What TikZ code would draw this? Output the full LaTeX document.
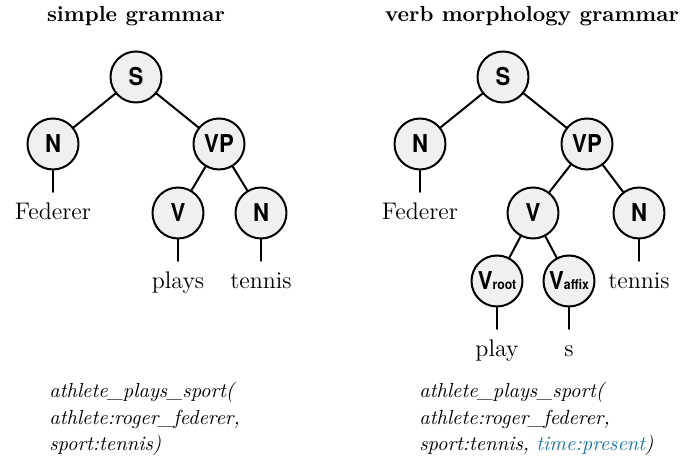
\documentclass[tikz,border=0pt]{standalone}
\usepackage{fontspec}
\usetikzlibrary{positioning}
\newfontfamily\nodefont{TeX Gyre Heros}[FakeStretch=0.9]
\definecolor{nodegray}{RGB}{240,240,240}
\definecolor{timeblue}{RGB}{26,118,168}
\tikzset{
  tnode/.style={circle, draw, line width=1pt, fill=nodegray, minimum size=25.5pt, inner sep=0pt,
    font=\nodefont\bfseries\fontsize{12.3}{12.3}\selectfont},
  word/.style={inner xsep=0pt, inner ysep=5pt, text height=8.5pt, text depth=2.5pt,
    font=\fontsize{12}{14}\selectfont},
  title/.style={anchor=base, font=\bfseries\fontsize{10.9}{13}\selectfont},
  rel/.style={align=left, anchor=north west, inner sep=0pt, font=\itshape\fontsize{10.2}{13.3}\selectfont},
  link/.style={line width=1pt},
}
\newcommand{\subv}[1]{V{\fontsize{6.8}{7}\selectfont #1}}
\begin{document}
\begin{tikzpicture}[x=0.5pt, y=-0.5pt, line join=round, line cap=round]
	\useasboundingbox (0,0) rectangle (681,458); % page size
	\node[title] (titleL) at (136,22) {simple grammar};
	\node[title] (titleR) at (532,22) {verb morphology grammar};
	% left tree
	\foreach \nm/\x/\y/\lab in {lS/136/77/S, lN/53/144/N, lVP/219/144/VP, lV/178/213/V, lNb/261/213/N}
	\node[tnode] (\nm) at (\x,\y) {\lab};
	\foreach \a/\b in {lS/lN, lS/lVP, lVP/lV, lVP/lNb}
	\draw[link] (\a) -- (\b);
	\foreach \nm/\up/\w in {lFed/lN/Federer, lPlays/lV/plays, lTen/lNb/tennis}
	{\node[word, below=10.75pt of \up] (\nm) {\w};
	\draw[link] (\up) -- (\nm);}
	% right tree
	\foreach \nm/\x/\y/\lab in {rS/503/77/S, rN/420/144/N, rVP/587/144/VP, rV/533/213/V, rNb/639/213/N,
		rVr/497/281/\subv{root}, rVa/569/281/\subv{affix}}
	\node[tnode] (\nm) at (\x,\y) {\lab};
	\foreach \a/\b in {rS/rN, rS/rVP, rVP/rV, rVP/rNb, rV/rVr, rV/rVa}
	\draw[link] (\a) -- (\b);
	\foreach \nm/\up/\w in {rFed/rN/Federer, rTen/rNb/tennis, rPlay/rVr/play, rSuf/rVa/s}
	{\node[word, below=10.75pt of \up] (\nm) {\w};
	\draw[link] (\up) -- (\nm);}
	% relations
	\node[rel] (relL) at (49,382)
	{athlete\_plays\_sport(\\athlete:roger\_federer,\\sport:tennis)};
	\node[rel] (relR) at (419,382)
	{athlete\_plays\_sport(\\athlete:roger\_federer,\\sport:tennis, \textcolor{timeblue}{time:present})};
\end{tikzpicture}
\end{document}
